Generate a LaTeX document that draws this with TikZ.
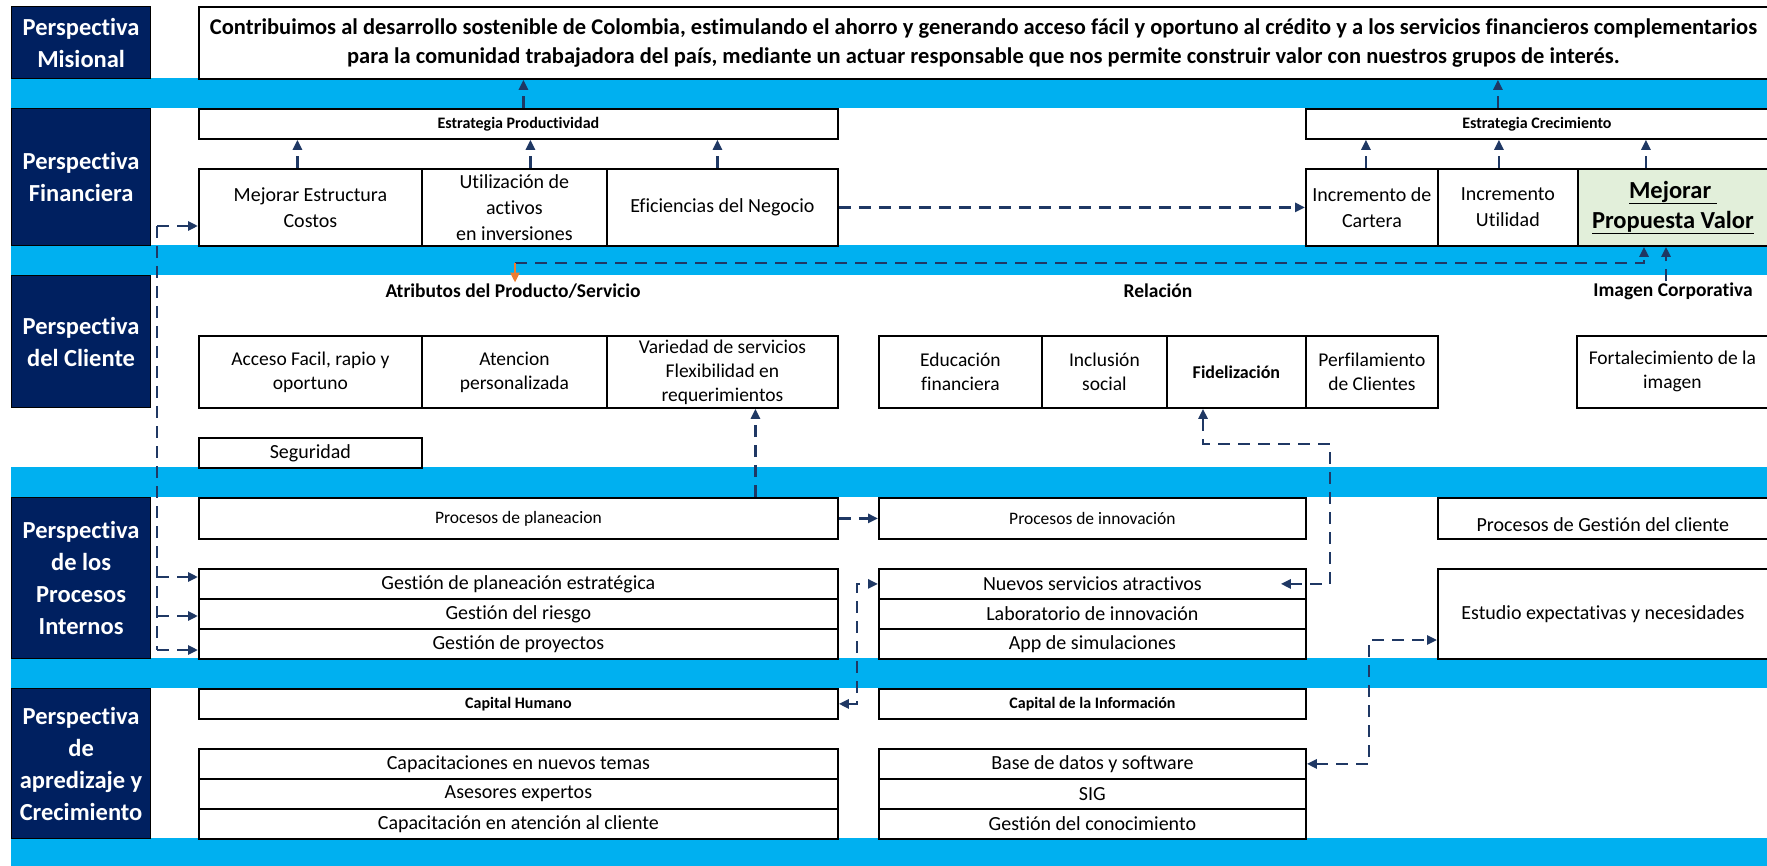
\documentclass[tikz,border=0pt]{standalone}
\usepackage{fontspec}
\setmainfont{Carlito}[Ligatures=CommonOff]
\usetikzlibrary{arrows.meta}
\definecolor{navy}{HTML}{002060}
\definecolor{band}{HTML}{00B0F0}
\definecolor{arrc}{HTML}{1F3864}
\definecolor{pgreen}{HTML}{E2EFDA}
\definecolor{orng}{HTML}{ED7D31}
\newcommand\fs[2]{\fontsize{#1}{#2}\selectfont}
% box given by top-left corner, width and height (pt)
\newcommand\bx[7][]{\node[box,#1,anchor=north west,minimum width=#5pt,minimum height=#6pt] (#2) at (#3,#4) {#7};}
\begin{document}
\begin{tikzpicture}[x=1pt,y=-1pt,
  box/.style={draw=black,line width=1.8pt,fill=white,inner sep=1pt,align=center,font=\fs{20}{26}},
  lbl/.style={draw=black,line width=1.2pt,fill=navy,text=white,font=\bfseries\fs{24.5}{32}},
  sbold/.style={font=\bfseries\fs{16}{18}},
  cli/.style={font=\fs{19.5}{24}},
  hd/.style={font=\bfseries\fs{19.5}{22},inner sep=1pt},
  dl/.style={draw=arrc,line width=2.8pt,dash pattern=on 12pt off 8pt},
  arrtip/.style={-{Triangle[length=10pt,width=9pt]}},
  arr/.style={dl,arrtip},
  arrb/.style={dl,{Triangle[length=10pt,width=9pt]}-{Triangle[length=10pt,width=9pt]}},
]
\useasboundingbox (0,0) rectangle (1767,866);
\fill[white] (0,0) rectangle (1767,866);

% horizontal separator bands
\fill[band] (11,78) rectangle (1767,108);
\fill[band] (11,245) rectangle (1767,275);
\fill[band] (11,467) rectangle (1767,497);
\fill[band] (11,658) rectangle (1767,688);
\fill[band] (11,838) rectangle (1767,866);

% perspective labels
\bx[lbl]{lmis}{11}{6}{139}{72}{Perspectiva\\Misional}
\bx[lbl]{lfin}{11}{108}{139}{137}{Perspectiva\\Financiera}
\bx[lbl]{lcli}{11}{275}{139}{132}{Perspectiva\\del Cliente}
\bx[lbl]{lpro}{11}{497}{139}{161}{Perspectiva\\de los\\Procesos\\Internos}
\bx[lbl]{lapr}{11}{688}{139}{150}{Perspectiva\\de\\apredizaje y\\Crecimiento}

% mission
\bx[font=\bfseries\fs{22.5}{29}]{mis}{198}{6}{1569}{72}{Contribuimos al desarrollo sostenible de Colombia, estimulando el ahorro y generando acceso fácil y oportuno al crédito y a los servicios financieros complementarios\\para la comunidad trabajadora del país, mediante un actuar responsable que nos permite construir valor con nuestros grupos de interés.}

% financial perspective
\bx[sbold]{estprod}{198}{108}{639}{30}{Estrategia Productividad}
\bx{mej}{198}{168}{223}{77}{Mejorar Estructura\\Costos}
\bx{uti}{421}{168}{185}{77}{Utilización de\\activos\\en inversiones}
\bx{efi}{606}{168}{231}{77}{Eficiencias del Negocio}
\bx[sbold]{estcre}{1305}{108}{462}{30}{Estrategia Crecimiento}
\bx{inc}{1305}{168}{132}{77}{Incremento de\\Cartera}
\bx{utl}{1437}{168}{140}{77}{Incremento\\Utilidad}
\bx[fill=pgreen,font=\bfseries\fs{24.5}{30}]{mpv}{1577}{168}{190}{77}{\underline{Mejorar\ }\\\underline{Propuesta Valor}}

% customer perspective
\node[hd] (atr) at (513,291) {Atributos del Producto/Servicio};
\node[hd] (rel) at (1158,291) {Relación};
\node[hd] (imc) at (1673,291) {Imagen Corporativa};
\bx[cli]{acc}{198}{335}{223}{72}{Acceso Facil, rapio y\\oportuno}
\bx[cli]{ate}{421}{335}{185}{72}{Atencion\\personalizada}
\bx[cli]{var}{606}{335}{231}{72}{Variedad de servicios\\Flexibilidad en\\requerimientos}
\bx[cli]{edu}{878}{335}{163}{72}{Educación\\financiera}
\bx[cli]{inl}{1041}{335}{125}{72}{Inclusión\\social}
\bx[font=\bfseries\fs{18}{20}]{fid}{1166}{335}{139}{72}{Fidelización}
\bx[cli]{per}{1305}{335}{132}{72}{Perfilamiento\\de Clientes}
\bx[cli]{for}{1576}{335}{191}{72}{Fortalecimiento de la\\imagen}
\bx{seg}{198}{437}{223}{30}{Seguridad}

% internal processes perspective
\bx[font=\fs{17.5}{20}]{ppl}{198}{497}{639}{41}{Procesos de planeacion}
\bx[font=\fs{17.5}{20}]{pin}{878}{497}{427}{41}{Procesos de innovación}
\bx{pgc}{1437}{497}{330}{41}{\raisebox{-13pt}[0pt][0pt]{Procesos de Gestión del cliente}}
\bx{gpe}{198}{568}{639}{30}{Gestión de planeación estratégica}
\bx{gri}{198}{598}{639}{30}{Gestión del riesgo}
\bx{gpr}{198}{628}{639}{30}{Gestión de proyectos}
\bx{nue}{878}{568}{427}{30}{Nuevos servicios atractivos}
\bx{lab}{878}{598}{427}{30}{Laboratorio de innovación}
\bx{app}{878}{628}{427}{30}{App de simulaciones}
\bx{est}{1437}{568}{330}{90}{\raisebox{3pt}{Estudio expectativas y necesidades}}

% learning and growth perspective
\bx[sbold]{caph}{198}{688}{639}{30}{Capital Humano}
\bx[sbold]{capi}{878}{688}{427}{30}{Capital de la Información}
\bx{ca1}{198}{748}{639}{30}{Capacitaciones en nuevos temas}
\bx{ca2}{198}{778}{639}{30}{Asesores expertos}
\bx{ca3}{198}{808}{639}{30}{Capacitación en atención al cliente}
\bx{bd1}{878}{748}{427}{30}{Base de datos y software}
\bx{bd2}{878}{778}{427}{30}{SIG}
\bx{bd3}{878}{808}{427}{30}{Gestión del conocimiento}

% strategy links
\draw[arr] ([xshift=-13pt]mej.north) -- ([xshift=-13pt]mej.north |- estprod.south);
\draw[arr] ([xshift=16pt]uti.north) -- ([xshift=16pt]uti.north |- estprod.south);
\draw[arr] ([xshift=-5pt]efi.north) -- ([xshift=-5pt]efi.north |- estprod.south);
\draw[arr] ([xshift=5pt]estprod.north) -- ([xshift=5pt]estprod.north |- mis.south);
\draw[arr] ([xshift=-6pt]inc.north) -- ([xshift=-6pt]inc.north |- estcre.south);
\draw[arr] ([xshift=-9pt]utl.north) -- ([xshift=-9pt]utl.north |- estcre.south);
\draw[arr] ([xshift=-27pt]mpv.north) -- ([xshift=-27pt]mpv.north |- estcre.south);
\draw[arr] ([xshift=-39pt]estcre.north) -- ([xshift=-39pt]estcre.north |- mis.south);
\draw[arr] (efi.east) -- (inc.west);

% return from value proposal to product attributes
\coordinate (rA) at (515,263);
\coordinate (rB) at (1644,263);
\draw[arr] (rA) -- (rB) -- (rB |- mpv.south);
\draw[draw=orng,line width=2.8pt,-{Triangle[length=10pt,width=9pt]},orng] (rA) -- (rA |- atr.north);
\draw[arr] ([xshift=-7pt]imc.north) -- ([xshift=-7pt]imc.north |- mpv.south);

% left trunk feeding the financial and process boxes
\coordinate (t0) at (157,226);
\coordinate (t1) at (157,577);
\coordinate (t2) at (157,616);
\coordinate (t3) at (157,650);
\draw[dl] (t0) -- (t3);
\draw[arr] (t0) -- (t0 -| mej.west);
\draw[arr] (t1) -- (t1 -| gpe.west);
\draw[arr] (t2) -- (t2 -| gri.west);
\draw[arr] (t3) -- (t3 -| gpr.west);

% process links
\draw[arr] ([xshift=33pt]var.south |- ppl.north) -- ([xshift=33pt]var.south);
\draw[arr] (ppl.east) -- (pin.west);
\coordinate (fk1) at (1330,444);
\coordinate (fk2) at (1203,444);
\draw[arrb] ([xshift=-26pt]nue.east) -- (nue.east -| fk1) -- (fk1) -- (fk2) -- (fk2 |- fid.south);
\coordinate (chx) at (857,0);
\draw[arrb] (caph.east) -- (caph.east -| chx) -- (nue.west -| chx) -- (nue.west);
\coordinate (ek) at (1369,640);
\draw[arrb] (bd1.east) -- (bd1.east -| ek) -- (ek) -- (ek -| est.west);
\end{tikzpicture}
\end{document}
